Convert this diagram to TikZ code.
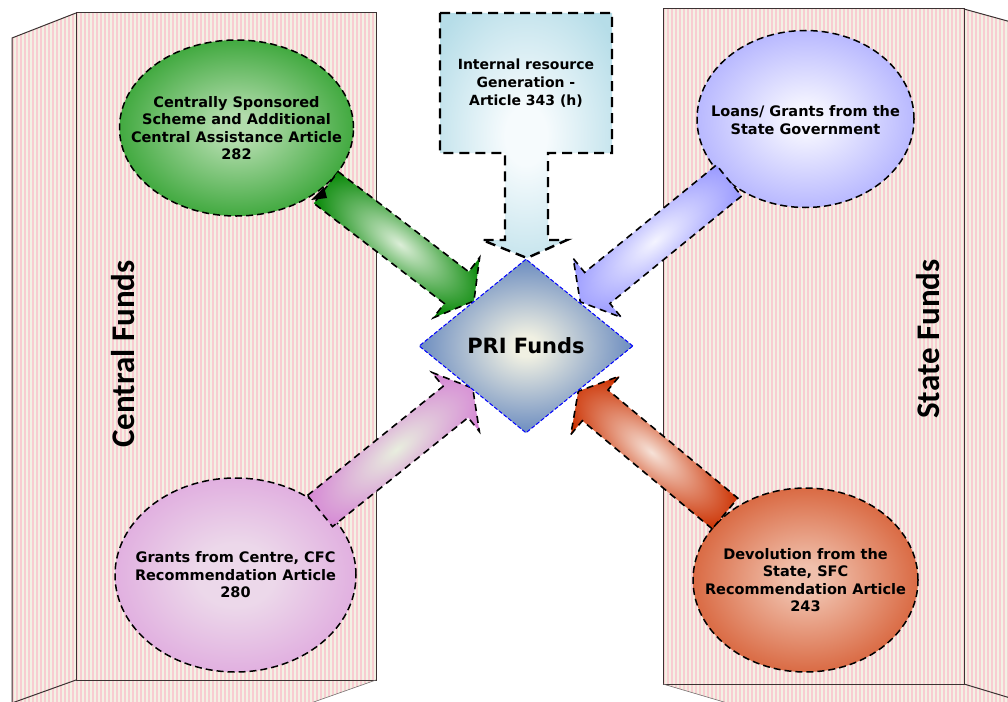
\documentclass[tikz,border=0pt]{standalone}
\usepackage{fontspec}
\usetikzlibrary{shapes.geometric}
\newfontfamily\dvs{DejaVu Sans}
\newfontfamily\carl{Carlito}
\definecolor{stripepink}{RGB}{248,204,209}
\definecolor{stripecream}{RGB}{243,241,228}
\definecolor{panelline}{RGB}{60,50,50}
\definecolor{gD}{RGB}{18,148,18}
\definecolor{gL}{RGB}{178,220,172}
\definecolor{bD}{RGB}{148,148,255}
\definecolor{bL}{RGB}{244,244,255}
\definecolor{pD}{RGB}{214,136,214}
\definecolor{pL}{RGB}{236,216,234}
\definecolor{oD}{RGB}{204,54,4}
\definecolor{oL}{RGB}{240,192,172}
\definecolor{dD}{RGB}{78,118,184}
\definecolor{dL}{RGB}{240,240,226}
\definecolor{tD}{RGB}{182,221,232}
\definecolor{tL}{RGB}{246,251,253}
\definecolor{agD}{RGB}{6,136,6}
\definecolor{agL}{RGB}{220,238,216}
\definecolor{abD}{RGB}{146,146,255}
\definecolor{abL}{RGB}{244,244,255}
\definecolor{apD}{RGB}{212,128,212}
\definecolor{apL}{RGB}{232,238,222}
\definecolor{aoD}{RGB}{204,50,2}
\definecolor{aoL}{RGB}{246,226,216}
\pgfdeclareradialshading{greenball}{\pgfpoint{0bp}{0bp}}{color(0bp)=(gL); color(4bp)=(gL); color(34bp)=(gD); color(100bp)=(gD)}
\pgfdeclareradialshading{blueball}{\pgfpoint{0bp}{0bp}}{color(0bp)=(bL); color(4bp)=(bL); color(38bp)=(bD); color(100bp)=(bD)}
\pgfdeclareradialshading{pinkball}{\pgfpoint{0bp}{0bp}}{color(0bp)=(pL); color(8bp)=(pL); color(42bp)=(pD); color(100bp)=(pD)}
\pgfdeclareradialshading{orangeball}{\pgfpoint{0bp}{0bp}}{color(0bp)=(oL); color(4bp)=(oL); color(38bp)=(oD); color(100bp)=(oD)}
\pgfdeclareradialshading{diaglow}{\pgfpoint{0bp}{0bp}}{color(0bp)=(dL); color(3bp)=(dL); color(30bp)=(dD); color(100bp)=(dD)}
\pgfdeclareradialshading{boxglow}{\pgfpoint{0bp}{0bp}}{color(0bp)=(tL); color(6bp)=(tL); color(32bp)=(tD); color(100bp)=(tD)}
\pgfdeclareradialshading{garrow}{\pgfpoint{0bp}{0bp}}{color(0bp)=(agL); color(28bp)=(agD); color(100bp)=(agD)}
\pgfdeclareradialshading{barrow}{\pgfpoint{0bp}{0bp}}{color(0bp)=(abL); color(30bp)=(abD); color(100bp)=(abD)}
\pgfdeclareradialshading{parrow}{\pgfpoint{0bp}{0bp}}{color(0bp)=(apL); color(30bp)=(apD); color(100bp)=(apD)}
\pgfdeclareradialshading{oarrow}{\pgfpoint{0bp}{0bp}}{color(0bp)=(aoL); color(28bp)=(aoD); color(100bp)=(aoD)}
\tikzset{
  panelbox/.style={draw=panelline, line width=1pt},
  panelthin/.style={draw=panelline!70, line width=0.6pt},
  ballnode/.style={ellipse, shade, draw=black, line width=1.5pt, dash pattern=on 7pt off 4pt, inner sep=0pt},
  balltext/.style={align=center, inner sep=0pt, font=\dvs\bfseries\fontsize{14.5}{17.5}\selectfont},
  blockarrowline/.style={draw=black, line width=1.6pt, dash pattern=on 7pt off 5pt},
  titletext/.style={font=\carl\bfseries\fontsize{33}{40}\selectfont, rotate=90, inner sep=0pt}
}
\newcommand{\blockarrow}[5]{%
  \begin{scope}[transform canvas={shift={(#1,#2)},rotate=#3}]
    \shadedraw[shading=#5, blockarrowline] (0,-20) -- (#4-22,-20) -- (#4-22,-38) -- (#4,0) -- (#4-22,38) -- (#4-22,20) -- (0,20) -- cycle;
  \end{scope}}
\begin{document}
\begin{tikzpicture}[x=1pt,y=-1pt]
\useasboundingbox (0,0) rectangle (1008,701);
\clip (0,0) rectangle (1008,701);
% ---- left panel (Central Funds)
\begin{scope}
  \clip (12,38) -- (76,13) -- (376,13) -- (376,680) -- (291,710) -- (12,710) -- cycle;
  \fill[stripecream] (0,0) rectangle (400,710);
  \foreach \i in {0,...,92} \fill[stripepink] ({12+4*\i},0) rectangle ({12+4*\i+2.2},710);
\end{scope}
\draw[panelbox] (76,13) rectangle (376,680);
\draw[panelbox] (76,13) -- (12,38) -- (12,710);
\draw[panelbox] (76,680) -- (12,703);
\draw[panelthin] (376,680) -- (291,710);
% ---- right panel (State Funds)
\begin{scope}
  \clip (663,9) -- (964,9) -- (1040,30) -- (1040,710) -- (751,710) -- (663,684) -- cycle;
  \fill[stripecream] (650,0) rectangle (1040,710);
  \foreach \i in {0,...,88} \fill[stripepink] ({663+4*\i},0) rectangle ({663+4*\i+2.2},710);
\end{scope}
\draw[panelbox] (663,9) rectangle (964,684);
\draw[panelbox] (964,9) -- (1040,30);
\draw[panelbox] (964,684) -- (1040,707);
\draw[panelthin] (663,684) -- (751,710);
\node[titletext] (cf) at (123,354) {Central Funds};
\node[titletext] (sf) at (928,339) {State Funds};
% ---- top box with down arrow
\shadedraw[shading=boxglow, draw=black, line width=2.4pt, dash pattern=on 10pt off 6pt]
  (440,13) -- (612,13) -- (612,153) -- (548,153) -- (548,240) -- (567,240) -- (527,258)
  -- (482,240) -- (505,240) -- (505,153) -- (440,153) -- cycle;
\node[align=center, font=\dvs\bfseries\fontsize{14}{18}\selectfont] (irg) at (526,83)
  {Internal resource\\Generation -\\Article 343 (h)};
% ---- source ellipses
\node[ballnode, shading=greenball, minimum width=234pt, minimum height=176pt] (css) at (236.5,128) {};
\node[balltext] (csst) at (css.center) {Centrally Sponsored\\Scheme and Additional\\Central Assistance Article\\282};
\node[ballnode, shading=blueball, minimum width=217pt, minimum height=177pt] (lgs) at (805.5,119) {};
\node[balltext] (lgst) at ([yshift=-1pt]lgs.center) {Loans/ Grants from the\\State Government};
\node[ballnode, shading=pinkball, minimum width=241pt, minimum height=194pt] (gfc) at (235.5,575) {};
\node[balltext] (gfct) at (gfc.center) {Grants from Centre, CFC\\Recommendation Article\\280};
\node[ballnode, shading=orangeball, minimum width=225pt, minimum height=184pt] (dfs) at (805.5,580) {};
\node[balltext] (dfst) at (dfs.center) {Devolution from the\\State, SFC\\Recommendation Article\\243};
% ---- block arrows toward PRI Funds
\blockarrow{326}{187.5}{-37.5}{186.5}{garrow}
\blockarrow{729}{180.5}{-140.8}{192}{barrow}
\blockarrow{320}{511}{38.8}{196}{parrow}
\blockarrow{725}{513.5}{140.2}{191}{oarrow}
\fill[black] (311,200) -- (324,187) -- (327,198) -- cycle;
% ---- PRI Funds diamond
\node[diamond, shade, shading=diaglow, draw=blue, line width=1pt, dash pattern=on 4pt off 2pt,
  minimum width=214pt, minimum height=174pt, inner sep=0pt,
  font=\dvs\bfseries\fontsize{21}{25}\selectfont] (pri) at (526,346) {PRI Funds};
\end{tikzpicture}
\end{document}
